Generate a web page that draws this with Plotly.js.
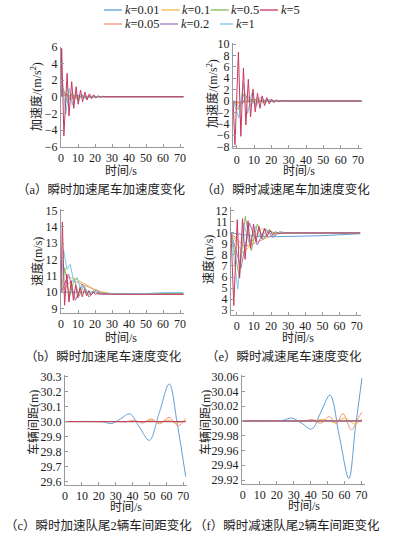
<!DOCTYPE html>
<html><head><meta charset="utf-8">
<script src="https://cdn.plot.ly/plotly-3.0.1.min.js"></script>
<style>html,body{margin:0;padding:0;background:#fff}#chart{width:393px;height:537px}</style>
</head><body><div id="chart"></div>
<script>
// ---------- series labels / colours ----------
const kNames  = ['0.01','0.05','0.1','0.2','0.5','1','5'];
const kColors = ['#5f9fd6','#f4907c','#f2b84b','#9b7bbf','#86b85a','#7cc6e6','#c9385f'];
const xTicks  = [0,10,20,30,40,50,60,70];
const aYTicks = [-6,-4,-2,0,2,4,6];
const dYTicks = [-8,-6,-4,-2,0,2,4,6,8,10];
const bYTicks = [9,10,11,12,13,14,15];
const eYTicks = [3,4,5,6,7,8,9,10,11,12];
const cYTicks = [29.6,29.7,29.8,29.9,30.0,30.1,30.2,30.3];
const fYTicks = [29.92,29.94,29.96,29.98,30.00,30.02,30.04,30.06];

// ---------- (a) acceleration, instant acceleration ----------
const a_t_001=[0,1.5,4,8,12,20,72];            const a_y_001=[0,0.15,0.1,0.05,0.02,0,0];
const a_t_005=[0,3,9,15,22,72];                const a_y_005=[0,0.25,-0.12,0.06,0,0];
const a_t_01 =[0,2.5,7.5,12.5,17.5,24,72];     const a_y_01 =[0,0.35,-0.2,0.1,-0.05,0,0];
const a_t_02 =[0,1.8,5.5,9.5,13.5,18,24,72];   const a_y_02 =[0,0.6,-0.35,0.2,-0.1,0.05,0,0];
const a_t_05 =[0,1.3,3.8,6.5,9.2,12,15,19,72]; const a_y_05 =[0,1.0,-0.7,0.4,-0.3,0.15,-0.08,0,0];
const a_t_1  =[0,0.9,2.8,4.8,6.7,8.6,10.5,12.4,14.3,16.2,18.5,22,72];
const a_y_1  =[0,1.8,-2.1,1.0,-1.0,0.55,-0.5,0.3,-0.25,0.15,-0.08,0,0];
const a_t_5  =[0,0.4,1.7,3.6,4.7,6.3,7.5,8.9,10.1,11.5,12.7,14.1,15.3,16.7,17.9,19.3,20.5,21.9,23.1,24.5,26,30,72];
const a_y_5  =[0,5.8,-4.7,2.8,-2.3,1.8,-1.4,1.2,-0.9,0.8,-0.6,0.55,-0.4,0.35,-0.25,0.22,-0.15,0.12,-0.08,0.05,0,0,0];

// ---------- (d) acceleration, instant deceleration ----------
const d_t_001=[-2.1,1,5,12,20,72];               const d_y_001=[0,-0.2,-0.1,0.03,0,0];
const d_t_005=[-2.1,2.5,9,15.5,21,28,72];        const d_y_005=[0,-0.4,0.25,-0.12,0.05,0,0];
const d_t_01 =[-2.1,2,7.5,13,18.5,25,72];        const d_y_01 =[0,-0.6,0.4,-0.2,0.1,0,0];
const d_t_02 =[-2.1,1.5,6,10.5,15,19.5,25,72];   const d_y_02 =[0,-1.0,0.9,-0.45,0.25,-0.1,0,0];
const d_t_05 =[-2.1,1,4.5,8,11.5,15,18.5,23,72]; const d_y_05 =[0,-1.5,1.5,-0.8,0.5,-0.3,0.15,0,0];
const d_t_1  =[-2.1,1.3,3.8,6.3,8.7,11.2,13.7,16.2,18.7,21.2,25,72];
const d_y_1  =[0,-3.0,3.1,-2.2,1.35,-1.0,0.7,-0.4,0.25,-0.1,0,0];
const d_t_5  =[-2.1,-1.0,1.0,2.4,3.9,5.3,6.7,8.0,9.4,10.7,12.0,13.4,14.7,16.1,17.4,18.8,20.1,21.5,22.8,24.2,26,29,72];
const d_y_5  =[0,-7.7,8.6,-6.2,5.8,-4.2,3.8,-2.8,2.1,-1.9,1.4,-1.3,0.9,-0.8,0.6,-0.5,0.35,-0.3,0.2,-0.1,0.05,0,0];

// ---------- (b) speed, instant acceleration ----------
const b_t_001=[0,10,20,30,40,55,65,72];          const b_y_001=[10,10.02,10,9.92,9.9,9.92,9.95,9.92];
const b_t_005=[0,6,10,14,18,22,26,30,72];        const b_y_005=[10,10.7,10.6,10.4,10.2,10.05,9.95,9.9,9.9];
const b_t_01 =[0,4,8,12,16,20,24,28,32,72];      const b_y_01 =[10,10.9,10.85,10.6,10.35,10.15,10.02,9.93,9.9,9.9];
const b_t_02 =[0,4.5,8.5,12.5,16.5,20.5,24.5,30,72]; const b_y_02=[10,11.1,9.5,10.5,9.7,10.15,9.85,9.9,9.9];
const b_t_05 =[0,2.2,5,7.8,10.6,13.4,16.2,19,22,25,30,72];
const b_y_05 =[10,11.5,9.7,10.8,9.75,10.4,9.8,10.1,9.88,9.95,9.9,9.9];
const b_t_1  =[0,1.5,3.5,5.5,7.5,9.5,11.5,13.5,16,20,25,30,50,60,72];
const b_y_1  =[10,12.6,11.4,11.7,10.6,10.9,10.2,10.4,9.95,10.0,9.9,9.9,9.92,9.97,9.98];
const b_t_5  =[0,0.8,2.1,3.4,4.7,6.0,7.3,8.6,9.9,11.2,12.5,13.8,15.1,16.4,17.7,19,20.3,21.6,23,25,28,40,72];
const b_y_5  =[10,14.3,9.2,11.1,9.4,10.7,9.5,10.45,9.65,10.3,9.72,10.18,9.78,10.1,9.82,10.02,9.85,9.95,9.88,9.9,9.88,9.88,9.87];

// ---------- (e) speed, instant deceleration ----------
const e_t_001=[-3.3,3,10,20,35,50,62,72];        const e_y_001=[10,9.85,9.7,9.65,9.67,9.75,9.85,9.93];
const e_t_005=[-3.3,4,8,12,16,20,24,28,72];      const e_y_005=[10,8.8,8.9,9.2,9.5,9.75,9.92,10,10];
const e_t_01 =[-3.3,3.5,7,11,15,19,23,28,72];    const e_y_01 =[10,8.2,8.7,9.8,10.4,10.2,9.95,10,10];
const e_t_02 =[-3.3,2.5,7.5,12,16.5,21,25,30,72];const e_y_02 =[10,6.8,10.9,8.9,10.4,9.6,10.1,10,10];
const e_t_05 =[-3.3,1.5,5,8.5,12,15.5,19,22.5,26,30,72];
const e_y_05 =[10,6.0,11.5,8.4,10.8,9.4,10.3,9.85,10.05,10,10];
const e_t_1  =[-3.3,0.6,4,7.4,10.8,14.2,17.6,21,24,28,72];
const e_y_1  =[10,4.9,10.9,9.0,10.6,9.5,10.25,9.8,10.05,10,10];
const e_t_5  =[-3.3,-1.7,0.3,1.7,3.4,4.9,6.6,8.1,9.8,11.3,13.0,14.5,16.2,17.7,19.4,20.9,22.6,24.5,28,72];
const e_y_5  =[10,3.4,11.2,5.9,11.3,7.6,11.1,8.6,10.8,9.2,10.6,9.5,10.4,9.7,10.25,9.85,10.1,9.95,10,10];

// ---------- (c) spacing, instant acceleration ----------
const c_t_001=[0,20,23,27.6,33,38.4,44.1,49.9,55.8,61.7,66.5,71.4];
const c_y_001=[30,30,29.997,29.987,30.019,30.051,29.963,29.875,30.06,30.25,29.98,29.635];
const c_t_005=[0,32,36.5,41,46,51,56,61.5,67,71.4];
const c_y_005=[30,30,29.998,30.008,29.99,30.018,29.985,30.028,29.972,30.02];
const c_t_01 =[0,35,41,46,51,56,61,66,71.4];
const c_y_01 =[30,30,30.004,29.997,30.008,29.994,30.01,29.99,30.01];
const c_t_flat=[0,71.4]; const c_y_flat=[30,30];

// ---------- (f) spacing, instant deceleration ----------
const f_t_001=[0,20,24,28.8,34.7,40.6,46,51.4,57,62.5,66.3,70.2];
const f_y_001=[30,30,30.001,30.004,29.997,29.989,30.012,30.035,29.978,29.922,29.99,30.058];
const f_t_005=[0,36,41,46,51,55,59,64,68,70.2];
const f_y_005=[30,30,30.002,29.997,30.006,29.996,30.010,29.988,30.004,30.012];
const f_t_01 =[0,40,48,54,60,66,70.2];
const f_y_01 =[30,30,30.002,29.998,30.004,29.996,30.003];
const f_t_flat=[0,70.2]; const f_y_flat=[30,30];

// ---------- build ----------
const W=393,H=537;
const fx=p=>p/W, fy=p=>1-p/H;
const FONT="'Liberation Serif','Noto Sans CJK SC',serif";

const panelSeries = [
  [[a_t_001,a_y_001],[a_t_005,a_y_005],[a_t_01,a_y_01],[a_t_02,a_y_02],[a_t_05,a_y_05],[a_t_1,a_y_1],[a_t_5,a_y_5]],
  [[d_t_001,d_y_001],[d_t_005,d_y_005],[d_t_01,d_y_01],[d_t_02,d_y_02],[d_t_05,d_y_05],[d_t_1,d_y_1],[d_t_5,d_y_5]],
  [[b_t_001,b_y_001],[b_t_005,b_y_005],[b_t_01,b_y_01],[b_t_02,b_y_02],[b_t_05,b_y_05],[b_t_1,b_y_1],[b_t_5,b_y_5]],
  [[e_t_001,e_y_001],[e_t_005,e_y_005],[e_t_01,e_y_01],[e_t_02,e_y_02],[e_t_05,e_y_05],[e_t_1,e_y_1],[e_t_5,e_y_5]],
  [[c_t_001,c_y_001],[c_t_005,c_y_005],[c_t_01,c_y_01],[c_t_flat,c_y_flat],[c_t_flat,c_y_flat],[c_t_flat,c_y_flat],[c_t_flat,c_y_flat]],
  [[f_t_001,f_y_001],[f_t_005,f_y_005],[f_t_01,f_y_01],[f_t_flat,f_y_flat],[f_t_flat,f_y_flat],[f_t_flat,f_y_flat],[f_t_flat,f_y_flat]]
];

// geometry (pixels) of each panel
const panels = [
  {px:[61,184],  py:[46.7,146.7], xr:[0,72.35],   yr:[-6,6],        yt:aYTicks, fmt:'d',   spline:false,
   ytitle:'加速度/(m/s<sup>2</sup>)', yx:37,  yy:97,  xtx:121, xty:171, cap:'（a）瞬时加速尾车加速度变化', cx:101, cy:190},
  {px:[233,362], py:[42.9,148.3], xr:[-2.13,72.3],yr:[-8.3,10.2],   yt:dYTicks, fmt:'d',   spline:false,
   ytitle:'加速度/(m/s<sup>2</sup>)', yx:212, yy:94,  xtx:299, xty:171, cap:'（d）瞬时减速尾车加速度变化', cx:285, cy:190},
  {px:[61,184],  py:[209,312.6],  xr:[0,72.35],   yr:[8.75,15.1],   yt:bYTicks, fmt:'d',   spline:false,
   ytitle:'速度(m/s)', yx:37,  yy:262, xtx:121, xty:338, cap:'（b）瞬时加速尾车速度变化', cx:103, cy:356},
  {px:[231,361], py:[206.5,315],  xr:[-3.33,72.5],yr:[2.55,12.4],   yt:eYTicks, fmt:'d',   spline:false,
   ytitle:'速度(m/s)', yx:208, yy:259, xtx:298, xty:338, cap:'（e）瞬时减速尾车速度变化', cx:284, cy:356},
  {px:[65,187],  py:[375,485],    xr:[0,72.2],    yr:[29.578,30.31],yt:cYTicks, fmt:'.1f', spline:true,
   ytitle:'车辆间距(m)', yx:33,  yy:423, xtx:126, xty:507, cap:'（c）瞬时加速队尾2辆车间距变化', cx:99,  cy:525},
  {px:[242,365], py:[375,484],    xr:[-0.4,72],   yr:[29.9146,30.0623], yt:fYTicks, fmt:'.2f', spline:true,
   ytitle:'车辆间距(m)', yx:205, yy:423, xtx:304, xty:506, cap:'（f）瞬时减速队尾2辆车间距变化', cx:287, cy:525}
];

const traces=[], layout={
  width:W, height:H, margin:{l:0,r:0,t:0,b:0}, paper_bgcolor:'#fff', plot_bgcolor:'#fff',
  showlegend:false, font:{family:FONT, size:12, color:'#222'}, annotations:[], shapes:[]
};

panels.forEach((p,i)=>{
  const n = i===0 ? '' : String(i+1);
  const axStyle = {showline:true, linecolor:'#9a9a9a', linewidth:1, showgrid:false, zeroline:false,
    ticks:'inside', ticklen:3, tickcolor:'#9a9a9a', tickfont:{family:FONT,size:12,color:'#222'}, fixedrange:true};
  layout['xaxis'+n] = Object.assign({}, axStyle, {domain:[fx(p.px[0]),fx(p.px[1])], range:p.xr,
    tickvals:xTicks, anchor:'y'+n});
  layout['yaxis'+n] = Object.assign({}, axStyle, {domain:[fy(p.py[1]),fy(p.py[0])], range:p.yr,
    tickvals:p.yt, tickformat:p.fmt, anchor:'x'+n});
  panelSeries[i].forEach((s,k)=>{
    traces.push({type:'scatter', mode:'lines', x:s[0], y:s[1], xaxis:'x'+n, yaxis:'y'+n,
      name:'k='+kNames[k], hoverinfo:'skip',
      line:{color:kColors[k], width:1, shape:p.spline?'spline':'linear'}});
  });
  layout.annotations.push({xref:'paper',yref:'paper',x:fx(p.yx),y:fy(p.yy),text:p.ytitle,textangle:-90,
    showarrow:false,xanchor:'center',yanchor:'middle',font:{family:FONT,size:12,color:'#222'}});
  layout.annotations.push({xref:'paper',yref:'paper',x:fx(p.xtx),y:fy(p.xty),text:'时间/s',
    showarrow:false,xanchor:'center',yanchor:'middle',font:{family:FONT,size:12,color:'#222'}});
  layout.annotations.push({xref:'paper',yref:'paper',x:fx(p.cx),y:fy(p.cy),text:p.cap,
    showarrow:false,xanchor:'center',yanchor:'middle',font:{family:FONT,size:12.5,color:'#222'}});
});

// manual legend (two rows)
const legendItems = [
  {k:0, x:104, y:10, len:18}, {k:2, x:161.7, y:10, len:18}, {k:4, x:210.7, y:10, len:18}, {k:6, x:260, y:10, len:18},
  {k:1, x:104, y:24, len:18}, {k:3, x:160, y:24, len:18}, {k:5, x:220, y:24, len:13}
];
legendItems.forEach(it=>{
  layout.shapes.push({type:'line',xref:'paper',yref:'paper',x0:fx(it.x),x1:fx(it.x+it.len),y0:fy(it.y),y1:fy(it.y),
    line:{color:kColors[it.k],width:1.3}});
  layout.annotations.push({xref:'paper',yref:'paper',x:fx(it.x+it.len+0.5),y:fy(it.y),text:'<i>k</i>='+kNames[it.k],
    showarrow:false,xanchor:'left',yanchor:'middle',font:{family:FONT,size:12.5,color:'#222'}});
});

Plotly.newPlot('chart', traces, layout, {displayModeBar:false, staticPlot:true});
</script></body></html>
